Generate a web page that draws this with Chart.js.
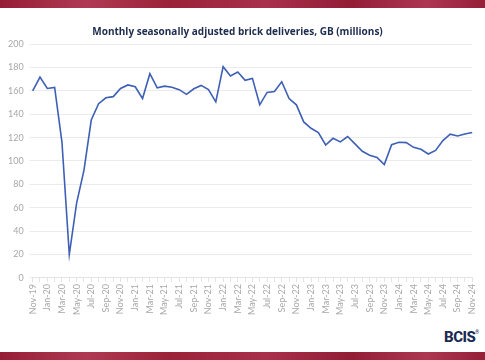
<!DOCTYPE html>
<html>
<head>
<meta charset="utf-8">
<script src="https://cdn.jsdelivr.net/npm/chart.js@4"></script>
<style>
  html, body { margin: 0; padding: 0; background: #fff; }
  body { width: 485px; height: 360px; position: relative; overflow: hidden; }
  .band { position: absolute; left: 0; width: 485px;
    background: linear-gradient(100deg, #951e36 0%, #b03a53 18%, #9a2239 35%, #a9304a 55%, #921d35 72%, #ad3750 88%, #941f37 100%); }
  #top { top: 0; height: 8px; }
  #bottom { top: 352px; height: 8px; }
  #wrap { position: absolute; left: 0; top: 0; width: 485px; height: 317px; }
  #logo { position: absolute; left: 444px; top: 328px; font: 800 15px "Roboto", sans-serif;
    color: #1b2a52; letter-spacing: -0.5px; }
  #logo sup { font-size: 5px; vertical-align: top; position: relative; top: 1px; }
</style>
</head>
<body>
<div id="top" class="band"></div>
<div id="wrap"><canvas id="chart_bricks"></canvas></div>
<div id="logo">BCIS<sup>®</sup></div>
<div id="bottom" class="band"></div>
<script>
// months, Nov 2019 to Nov 2024
const months = [
  'Nov-19','Dec-19','Jan-20','Feb-20','Mar-20','Apr-20','May-20','Jun-20','Jul-20','Aug-20','Sep-20','Oct-20',
  'Nov-20','Dec-20','Jan-21','Feb-21','Mar-21','Apr-21','May-21','Jun-21','Jul-21','Aug-21','Sep-21','Oct-21',
  'Nov-21','Dec-21','Jan-22','Feb-22','Mar-22','Apr-22','May-22','Jun-22','Jul-22','Aug-22','Sep-22','Oct-22',
  'Nov-22','Dec-22','Jan-23','Feb-23','Mar-23','Apr-23','May-23','Jun-23','Jul-23','Aug-23','Sep-23','Oct-23',
  'Nov-23','Dec-23','Jan-24','Feb-24','Mar-24','Apr-24','May-24','Jun-24','Jul-24','Aug-24','Sep-24','Oct-24',
  'Nov-24'
];

// deliveries, millions (seasonally adjusted)
const deliveries = [
  160, 171.7, 162, 162.9, 116, 20, 64, 92, 135, 149, 154, 155,
  162, 165, 163.4, 153.4, 174.6, 162.6, 164, 163, 161, 157, 161.7, 164.6,
  161, 150.6, 180.6, 172.6, 176, 169, 170.6, 148, 158.6, 159.4, 167.7, 153.4,
  148, 133.4, 128, 124.3, 113.7, 119.4, 116.3, 120.9, 114.6, 108.3, 105, 103,
  96.9, 114, 116, 115.7, 111.7, 110, 106, 109, 117.4, 122.9, 121.4, 123,
  124.3
];

const yTicks = [0, 20, 40, 60, 80, 100, 120, 140, 160, 180, 200];

var ctx = document.getElementById('chart_bricks').getContext('2d');
var myChart = new Chart(ctx, {
  type: 'line',
  data: {
    labels: months,
    datasets: [{
      label: 'Brick deliveries',
      data: deliveries,
      borderColor: '#3d5fb4',
      borderWidth: 1.6,
      pointRadius: 0,
      tension: 0,
      fill: false
    }]
  },
  options: {
    responsive: true,
    maintainAspectRatio: false,
    animation: false,
    layout: { padding: { left: 2, right: 12, top: 12, bottom: 0 } },
    plugins: {
      legend: { display: false },
      tooltip: { enabled: false },
      title: {
        display: true,
        text: 'Monthly seasonally adjusted brick deliveries, GB (millions)',
        color: '#1d2b4f',
        font: { family: 'Open Sans', size: 10, weight: 'bold' },
        padding: { top: 14, bottom: 6 }
      }
    },
    scales: {
      x: {
        offset: false,
        grid: { drawOnChartArea: false, color: '#e4e4e4', tickLength: 4 },
        border: { color: '#e4e4e4' },
        ticks: {
          autoSkip: false,
          maxRotation: 90,
          minRotation: 90,
          color: '#a8a8a8',
          font: { family: 'Lato', size: 9 },
          padding: 2,
          callback: function (val, i) { return i % 2 === 0 ? months[i] : ''; }
        }
      },
      y: {
        min: 0,
        max: 200,
        afterBuildTicks: function (axis) { axis.ticks = yTicks.map(v => ({ value: v })); },
        grid: { color: '#ebebeb', tickLength: 3 },
        border: { display: false },
        ticks: {
          color: '#a8a8a8',
          font: { family: 'Lato', size: 9 },
          padding: 6
        }
      }
    }
  }
});
</script>
</body>
</html>
